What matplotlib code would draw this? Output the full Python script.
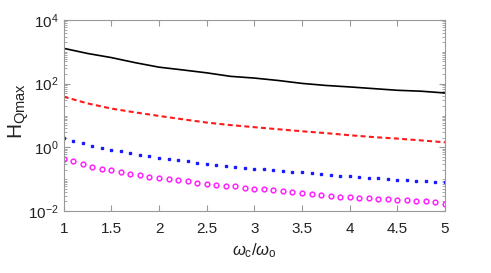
import numpy as np
import matplotlib
matplotlib.use("Agg")
import matplotlib.pyplot as plt
from matplotlib.ticker import LogLocator, FixedLocator, NullFormatter

plt.rcParams['font.family'] = ['Liberation Sans', 'DejaVu Sans']
plt.rcParams['mathtext.fontset'] = 'custom'
plt.rcParams['mathtext.rm'] = 'Liberation Sans'
plt.rcParams['mathtext.it'] = 'Liberation Sans:italic'

# data
w_line = [1, 1.25, 1.5, 1.75, 2, 2.25, 2.5, 2.75, 3, 3.25, 3.5, 3.75, 4, 4.25, 4.5, 4.75, 5]
h_black = [1290, 890, 660, 457, 330, 270, 219, 170, 150, 126, 102, 88, 79, 70, 62, 58, 51]

w_red = [1, 1.25, 1.5, 1.75, 2, 2.25, 2.5, 2.75, 3, 3.25, 3.5, 3.75, 4, 4.25, 4.5, 4.75, 5]
h_red = [39, 24, 16.5, 12.5, 9.7, 7.6, 6.0, 5.0, 4.3, 3.7, 3.2, 2.8, 2.4, 2.1, 1.88, 1.65, 1.44]

w_pts = [round(1 + 0.1 * i, 1) for i in range(41)]
h_blue = [1.9, 1.58, 1.34, 1.13, 0.98, 0.85, 0.75, 0.66, 0.57, 0.53, 0.47,
          0.43, 0.40, 0.36, 0.33, 0.31, 0.28, 0.26, 0.24, 0.23, 0.21,
          0.209, 0.194, 0.179, 0.171, 0.163, 0.155, 0.148, 0.138, 0.128, 0.122,
          0.116, 0.111, 0.106, 0.100, 0.096, 0.093, 0.089, 0.087, 0.083, 0.079]
h_mag = [0.42, 0.36, 0.29, 0.25, 0.21, 0.194, 0.167, 0.148, 0.131, 0.120, 0.108,
         0.098, 0.091, 0.085, 0.078, 0.072, 0.067, 0.063, 0.059, 0.054, 0.050,
         0.048, 0.045, 0.042, 0.040, 0.037, 0.0335, 0.031, 0.0295, 0.0285, 0.027,
         0.0265, 0.025, 0.0243, 0.0234, 0.0226, 0.0218, 0.0208, 0.0199, 0.019, 0.0168]

x_ticks = [1, 1.5, 2, 2.5, 3, 3.5, 4, 4.5, 5]
x_labels = ['1', '1.5', '2', '2.5', '3', '3.5', '4', '4.5', '5']

fig = plt.figure(figsize=(4.91, 2.73), dpi=100)
ax = fig.add_axes([0.1297, 0.2271, 0.7766, 0.6996])

ax.plot(w_line, h_black, color='black', lw=1.2)
ax.plot(w_red, h_red, color='#ff1a1a', lw=1.5, ls=(0, (2.4, 1.6)))
ax.plot(w_pts, h_blue, ls='none', marker='s', ms=2.0, color='#1a1aff')
ax.plot(w_pts, h_mag, ls='none', marker='o', ms=3.4, mfc='none',
        mec='#ff22ff', mew=1.1)

ax.set_yscale('log')
ax.set_xlim(1, 5)
ax.set_ylim(1e-2, 1e4)
ax.yaxis.set_major_locator(FixedLocator([1e-2, 1, 1e2, 1e4]))
ax.yaxis.set_minor_locator(LogLocator(base=10, subs=np.arange(1, 10), numticks=20))
ax.yaxis.set_minor_formatter(NullFormatter())
ax.set_yticklabels([r'$10^{-2}$', r'$10^{0}$', r'$10^{2}$', r'$10^{4}$'])
ax.set_xticks(x_ticks)
ax.set_xticklabels(x_labels)

ax.tick_params(which='both', direction='in', top=True, right=True,
               color='#999999', labelsize=11, labelcolor='#222222')
ax.tick_params(which='major', length=4)
ax.tick_params(which='minor', length=2)
ax.tick_params(axis='x', pad=8)
for s in ax.spines.values():
    s.set_color('#999999')

ax.set_xlabel(r'$\omega_{\rm c}/\omega_{\rm o}$', fontsize=12, color='#222222')
fig.text(19 / 491, 1 - 111 / 273, r'H$_{\rm Qmax}$', fontsize=15, color='#222222',
         rotation=90, ha='center', va='center')

fig.savefig('out.png', dpi=100)
